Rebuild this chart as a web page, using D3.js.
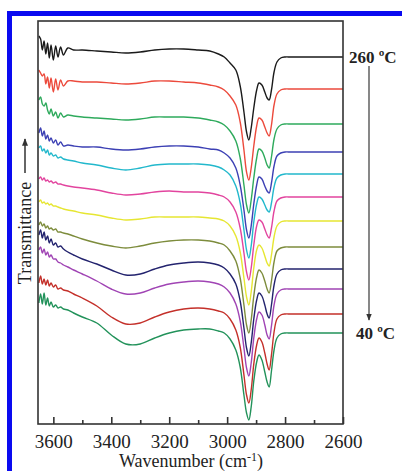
<!DOCTYPE html>
<html>
<head>
<meta charset="utf-8">
<script src="https://cdn.jsdelivr.net/npm/d3@7"></script>
<style>
  body { margin: 0; background: #fff; }
  text { font-family: "Liberation Serif", "Times New Roman", serif; fill: #222; }
</style>
</head>
<body>
<div id="graph"></div>
<script>
// wavenumber grid (cm-1) shared by all spectra
const wavenumbers = [3650, 3644, 3638, 3632, 3626, 3620, 3614, 3608, 3600, 3592, 3584, 3575, 3565, 3550, 3530,
  3500, 3450, 3400, 3350, 3300, 3250, 3200, 3150, 3100, 3060, 3030, 3010,
  2990, 2970, 2955, 2942, 2933, 2925, 2917, 2908, 2898, 2890, 2880, 2870, 2862, 2855, 2847, 2838, 2828, 2815, 2800,
  2780, 2700, 2600];

// stacked transmittance (a.u., offset per temperature)
const t260 = [388,385,374,383,370,381,366,379,364,378,367,377,369,376,374, 374,373,372,371,372,374,375,375,374,373,370,367, 361,354,338,312,292,284,296,316,334,341,339,332,326,324,334,352,362,366,367, 367,367,367];
const t240 = [354,351,348,350,340,347,336,346,332,345,334,344,338,343,343, 342,342,341,340,341,343,343,342,341,339,337,334, 328,319,302,274,252,244,256,278,298,306,304,297,291,288,299,319,330,334,335, 335,335,335];
const t220 = [324,327,320,318,321,314,310,315,308,312,306,311,307,309,308, 307,306,305,304,305,307,307,307,306,304,302,299, 293,283,266,239,219,211,224,246,266,275,273,266,259,256,267,285,295,299,300, 300,300,300];
const t200 = [291,296,288,293,285,289,283,286,281,284,279,282,278,279,278, 277,277,275,274,275,277,278,278,277,275,274,271, 266,256,239,214,194,186,198,220,239,247,245,238,233,231,241,258,268,271,272, 272,272,272];
const t180 = [276,278,273,275,271,274,269,271,268,269,266,267,265,264,263, 261,259,256,254,256,259,260,260,260,259,257,254, 249,238,221,194,174,166,178,202,220,227,225,219,214,212,221,237,246,249,250, 250,250,250];
const t160 = [245,247,244,246,243,244,242,243,241,242,240,240,239,238,237, 236,234,231,229,230,232,233,232,232,231,229,227, 222,212,196,171,152,144,156,179,198,204,202,195,189,186,196,213,223,226,227, 227,227,227];
const t140 = [222,224,221,222,220,221,219,220,218,218,217,216,215,214,213, 211,209,206,204,205,207,207,207,207,206,205,203, 198,188,172,146,127,119,132,156,174,179,176,168,161,158,169,187,198,202,203, 203,203,203];
const t120 = [199,202,198,200,196,198,195,196,194,195,192,192,191,190,188, 185,181,178,176,178,181,183,184,184,183,181,179, 173,163,146,119,99,91,104,128,147,154,151,143,135,131,143,162,173,176,177, 177,177,177];
const t100 = [189,194,186,192,184,188,181,185,179,181,177,178,175,172,169, 165,160,154,149,150,155,159,161,162,161,159,156, 150,140,123,96,76,68,81,105,124,131,128,119,110,106,119,139,150,154,155, 155,155,155];
const t80 = [174,177,171,175,169,172,167,169,165,165,162,161,159,157,154, 150,143,135,130,131,136,140,142,143,142,140,137, 131,120,103,76,56,48,61,86,105,112,109,99,89,85,98,119,130,134,135, 135,135,135];
const t60 = [141,148,140,145,139,144,138,141,137,139,135,136,134,133,130, 126,118,107,100,101,107,112,115,116,115,113,111, 105,94,77,49,29,21,34,60,79,86,82,71,60,54,69,92,105,109,110, 110,110,110];
const t40 = [121,130,120,131,119,126,118,122,117,119,116,117,115,114,111, 107,101,89,80,80,86,91,94,95,95,93,91, 85,74,57,29,11,4,17,43,62,69,64,52,42,37,53,74,86,90,91, 91,91,91];

const temperatures = [260, 240, 220, 200, 180, 160, 140, 120, 100, 80, 60, 40];
const spectra = [t260, t240, t220, t200, t180, t160, t140, t120, t100, t80, t60, t40];
const colors = ['#1a1a1a', '#ec4a3c', '#2eaa5c', '#3c40b4', '#22b8cc', '#e2449e', '#e6e632',
  '#7d8c3c', '#23236e', '#a044b4', '#c4302a', '#22925a'];

const majorTicks = [3600, 3400, 3200, 3000, 2800, 2600];
const minorTicks = [3500, 3300, 3100, 2900, 2700];

const W = 402, H = 471;
const m = { left: 38, right: 343, top: 21, bottom: 424 };

const svg = d3.select('#graph').append('svg')
  .attr('width', W)
  .attr('height', H);

svg.append('rect').attr('width', W).attr('height', H).attr('fill', '#fff');

// blue page frame
svg.append('rect').attr('x', 7).attr('y', 11).attr('width', 5).attr('height', H - 11).attr('fill', '#0a0af0');
svg.append('rect').attr('x', 7).attr('y', 11).attr('width', W - 7).attr('height', 5).attr('fill', '#0a0af0');

const x = d3.scaleLinear().domain([3653, 2600]).range([m.left, m.right]);
const y = d3.scaleLinear().domain([0, 403]).range([m.bottom, m.top]);

const line = d3.line()
  .x((d, i) => x(wavenumbers[i]))
  .y(d => y(d))
  .curve(d3.curveCatmullRom.alpha(0.5));

svg.append('g')
  .selectAll('path')
  .data(spectra)
  .enter().append('path')
  .attr('d', d => line(d))
  .attr('fill', 'none')
  .attr('stroke', (d, i) => colors[i])
  .attr('stroke-width', 1.4)
  .attr('stroke-linejoin', 'round');

// frame
svg.append('rect')
  .attr('x', m.left).attr('y', m.top)
  .attr('width', m.right - m.left).attr('height', m.bottom - m.top)
  .attr('fill', 'none').attr('stroke', '#333').attr('stroke-width', 1.6);

// bottom axis, ticks pointing inward
const axMajor = svg.append('g')
  .attr('transform', `translate(0,${m.bottom})`)
  .call(d3.axisBottom(x).tickValues(majorTicks).tickSize(-7).tickPadding(11).tickFormat(d3.format('d')));
const axMinor = svg.append('g')
  .attr('transform', `translate(0,${m.bottom})`)
  .call(d3.axisBottom(x).tickValues(minorTicks).tickSize(-4).tickFormat(''));
[axMajor, axMinor].forEach(g => {
  g.select('.domain').remove();
  g.selectAll('line').attr('stroke', '#333').attr('stroke-width', 1.6);
});
axMajor.selectAll('text').attr('font-size', 19).attr('fill', '#222')
  .style('font-family', '"Liberation Serif", serif');

// x title
const xt = svg.append('text')
  .attr('x', 191).attr('y', 467)
  .attr('text-anchor', 'middle')
  .attr('font-size', 18);
xt.append('tspan').text('Wavenumber (cm');
xt.append('tspan').attr('dy', -6).attr('font-size', 12).text('-1');
xt.append('tspan').attr('dy', 6).text(')');

// y title with arrow
svg.append('text')
  .attr('transform', 'translate(31,233) rotate(-90)')
  .attr('text-anchor', 'middle')
  .attr('font-size', 18)
  .text('Transmittance');

const defs = svg.append('defs');
defs.append('marker')
  .attr('id', 'ah')
  .attr('viewBox', '0 0 10 10')
  .attr('refX', 9).attr('refY', 5)
  .attr('markerWidth', 5).attr('markerHeight', 5)
  .attr('orient', 'auto')
  .append('path').attr('d', 'M0,1 L10,5 L0,9 Z').attr('fill', '#333');

svg.append('line')
  .attr('x1', 25).attr('y1', 173).attr('x2', 25).attr('y2', 139)
  .attr('stroke', '#333').attr('stroke-width', 1.5)
  .attr('marker-end', 'url(#ah)');

// temperature annotation
svg.append('text')
  .attr('x', 349).attr('y', 63)
  .attr('font-size', 17).attr('font-weight', 'bold')
  .text('260 ºC');
svg.append('text')
  .attr('x', 356).attr('y', 339)
  .attr('font-size', 17).attr('font-weight', 'bold')
  .text('40 ºC');

svg.append('line')
  .attr('x1', 369).attr('y1', 66).attr('x2', 369).attr('y2', 320)
  .attr('stroke', '#555').attr('stroke-width', 1.4)
  .attr('marker-end', 'url(#ah)');
</script>
</body>
</html>
